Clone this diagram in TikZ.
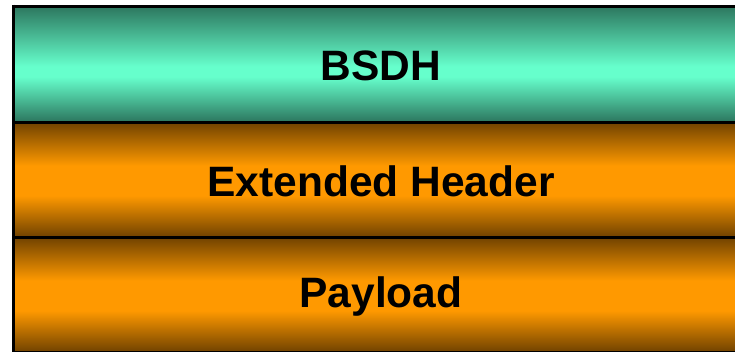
\documentclass[tikz,border=0pt]{standalone}
\usepackage{fontspec}
\setmainfont{Liberation Sans}
\usetikzlibrary{positioning}

% band colours
\definecolor{tealdk}{RGB}{44,118,94}
\definecolor{teallt}{RGB}{102,255,204}
\definecolor{orangedk}{RGB}{112,66,0}
\definecolor{orangelt}{RGB}{255,153,0}

% vertical profiles: dark at the edges, bright just below the middle
% (the filled path occupies 25bp..75bp of the 100bp shading, bottom to top)
\pgfdeclareverticalshading{tealband}{100bp}{%
  color(0bp)=(tealdk); color(25bp)=(tealdk); color(44.5bp)=(teallt);
  color(49bp)=(teallt); color(75bp)=(tealdk); color(100bp)=(tealdk)}
\pgfdeclareverticalshading{orangeband}{100bp}{%
  color(0bp)=(orangedk); color(25bp)=(orangedk); color(43bp)=(orangelt);
  color(56bp)=(orangelt); color(75bp)=(orangedk); color(100bp)=(orangedk)}

\begin{document}
\begin{tikzpicture}[x=1pt,y=-1pt,
  band/.style={draw=black,line width=3pt},
  label/.style={anchor=base,font=\bfseries\fontsize{42.5}{45}\selectfont,text=black,inner sep=0pt}]
  \useasboundingbox (0,0) rectangle (735,351);
  \clip (0,0) rectangle (735,351);

  % the three stacked fields
  \path[band,shading=tealband]   (13.5,6)   rectangle (749,122);
  \path[band,shading=orangeband] (13.5,122) rectangle (749,237);
  \path[band,shading=orangeband] (13.5,237) rectangle (749,352);
  \draw[line width=3pt] (13.5,6) -- (749,6);
  \draw[line width=3pt] (13.5,122) -- (749,122);
  \draw[line width=3pt] (13.5,237) -- (749,237);
  \draw[line width=3pt] (13.5,4.5) -- (13.5,351);

  % field names
  \node[label] (bsdh) at (381,80.5)  {BSDH};
  \node[label] (ext)  at (381,196.5) {Extended Header};
  \node[label] (pay)  at (381,307.5) {Payload};
\end{tikzpicture}
\end{document}
